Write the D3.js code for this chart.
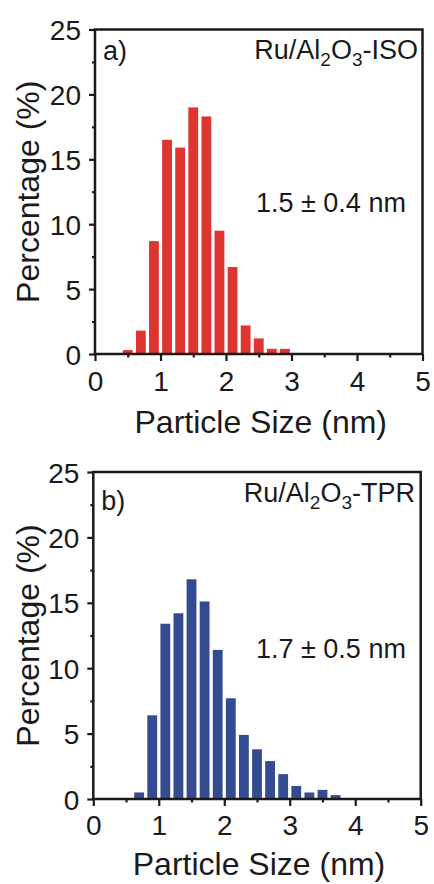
<!DOCTYPE html>
<html>
<head>
<meta charset="utf-8">
<script src="https://cdn.jsdelivr.net/npm/d3@7/dist/d3.min.js"></script>
<style>
  html, body { margin: 0; padding: 0; background: #fff; }
  svg { display: block; }
  text { font-family: "Liberation Sans", Arial, Helvetica, sans-serif; fill: #1a1a1a; }
</style>
</head>
<body>
<svg id="chart" width="434" height="884"></svg>
<script>
// Particle size distributions (bin centre in nm, percentage of particles)
const sizesISO = [0.5, 0.7, 0.9, 1.1, 1.3, 1.5, 1.7, 1.9, 2.1, 2.3, 2.5, 2.7, 2.9];
const pctISO   = [0.3, 1.8, 8.7, 16.5, 15.9, 19.0, 18.3, 9.5, 6.7, 2.2, 1.2, 0.4, 0.4];

const sizesTPR = [0.7, 0.9, 1.1, 1.3, 1.5, 1.7, 1.9, 2.1, 2.3, 2.5, 2.7, 2.9, 3.1, 3.3, 3.5, 3.7];
const pctTPR   = [0.5, 6.4, 13.4, 14.2, 16.8, 15.1, 11.4, 7.7, 4.9, 3.8, 2.9, 1.9, 1.0, 0.5, 0.7, 0.3];

const xTicks = [0, 1, 2, 3, 4, 5];
const xMinorTicks = [0.5, 1.5, 2.5, 3.5, 4.5];
const yTicks = [0, 5, 10, 15, 20, 25];
const yMinorTicks = [2.5, 7.5, 12.5, 17.5, 22.5];

const panels = [
  { tag: "a)", sample: "ISO", stat: "1.5 \u00b1 0.4 nm", sizes: sizesISO, pct: pctISO, color: "#df3530",
    left: 95, right: 422.5, top: 29.5, bottom: 354,
    tagY: 60, sampleX: 418, sampleY: 59, statX: 256, statY: 211.5,
    tickLabelDy: 37, titleDy: 78.5 },
  { tag: "b)", sample: "TPR", stat: "1.7 \u00b1 0.5 nm", sizes: sizesTPR, pct: pctTPR, color: "#344b91",
    left: 93.3, right: 420.7, top: 472, bottom: 799,
    tagY: 510, sampleX: 415, sampleY: 501.5, statX: 256, statY: 658,
    tickLabelDy: 36, titleDy: 75.5 }
];

const svg = d3.select("#chart");
svg.append("rect").attr("width", 434).attr("height", 884).attr("fill", "#fff");

panels.forEach(p => {
  const x = d3.scaleLinear().domain([0, 5]).range([p.left, p.right]);
  const y = d3.scaleLinear().domain([0, 25]).range([p.bottom, p.top]);
  const g = svg.append("g");
  const binW = 0.15;

  // bars
  g.selectAll("rect.bar")
    .data(p.sizes.map((s, i) => ({ s, v: p.pct[i] })))
    .join("rect")
    .attr("class", "bar")
    .attr("x", d => x(d.s - binW / 2))
    .attr("width", d => x(d.s + binW / 2) - x(d.s - binW / 2))
    .attr("y", d => y(d.v))
    .attr("height", d => y(0) - y(d.v))
    .attr("fill", p.color);

  // axes: major ticks with labels, minor ticks without
  const styleAxis = sel => {
    sel.select(".domain").remove();
    sel.selectAll(".tick line").attr("stroke", "#1a1a1a").attr("stroke-width", 2.2);
    sel.selectAll(".tick text").attr("font-size", 28).attr("fill", "#1a1a1a")
      .attr("font-family", '"Liberation Sans", Arial, sans-serif');
  };

  const xAxis = g.append("g").attr("transform", `translate(0,${p.bottom})`)
    .call(d3.axisBottom(x).tickValues(xTicks).tickSize(7).tickPadding(0).tickFormat(d3.format("d")));
  styleAxis(xAxis);
  xAxis.selectAll(".tick text").attr("dy", null).attr("y", p.tickLabelDy);

  const xMinor = g.append("g").attr("transform", `translate(0,${p.bottom})`)
    .call(d3.axisBottom(x).tickValues(xMinorTicks).tickSize(3.5).tickFormat(""));
  styleAxis(xMinor);

  const yAxis = g.append("g").attr("transform", `translate(${p.left},0)`)
    .call(d3.axisLeft(y).tickValues(yTicks).tickSize(6).tickPadding(8).tickFormat(d3.format("d")));
  styleAxis(yAxis);
  yAxis.selectAll(".tick text").attr("dy", "0.36em");

  const yMinor = g.append("g").attr("transform", `translate(${p.left},0)`)
    .call(d3.axisLeft(y).tickValues(yMinorTicks).tickSize(3).tickFormat(""));
  styleAxis(yMinor);

  // frame
  g.append("rect")
    .attr("x", p.left).attr("y", p.top)
    .attr("width", p.right - p.left).attr("height", p.bottom - p.top)
    .attr("fill", "none").attr("stroke", "#1a1a1a").attr("stroke-width", 2.5);

  // axis titles
  g.append("text")
    .attr("x", (p.left + p.right) / 2 + 2).attr("y", p.bottom + p.titleDy)
    .attr("text-anchor", "middle").attr("font-size", 32)
    .text("Particle Size (nm)");

  g.append("text")
    .attr("transform", `translate(39,${(p.top + p.bottom) / 2}) rotate(-90)`)
    .attr("text-anchor", "middle").attr("font-size", 32)
    .text("Percentage (%)");

  // panel tag
  g.append("text")
    .attr("x", p.left + 8).attr("y", p.tagY)
    .attr("font-size", 27).text(p.tag);

  // sample name with subscripts
  const name = g.append("text")
    .attr("x", p.sampleX).attr("y", p.sampleY)
    .attr("text-anchor", "end").attr("font-size", 27);
  name.append("tspan").text("Ru/Al");
  name.append("tspan").attr("font-size", 19).attr("dy", 7).text("2");
  name.append("tspan").attr("dy", -7).text("O");
  name.append("tspan").attr("font-size", 19).attr("dy", 7).text("3");
  name.append("tspan").attr("dy", -7).text("-" + p.sample);

  // mean size annotation
  g.append("text")
    .attr("x", p.statX).attr("y", p.statY)
    .attr("font-size", 27).text(p.stat);
});
</script>
</body>
</html>
